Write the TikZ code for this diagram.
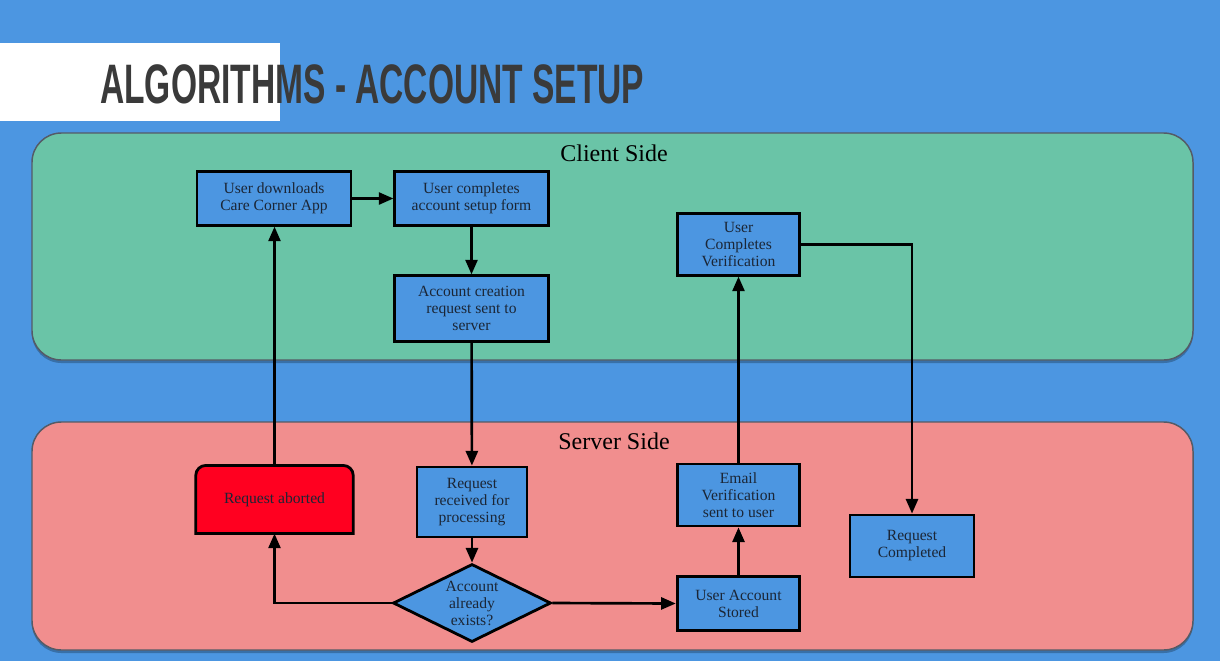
\documentclass[tikz,border=0pt]{standalone}
\usepackage{fontspec}
\setmainfont{Liberation Serif}
\newfontfamily\titlefont{Liberation Sans}
\usetikzlibrary{arrows.meta, positioning, calc, shapes.geometric}

\definecolor{slideblue}{HTML}{4C96E1}
\definecolor{clientgreen}{HTML}{6AC4A7}
\definecolor{serverred}{HTML}{F18E8E}
\definecolor{abortred}{HTML}{FF0020}
\definecolor{titlegray}{HTML}{3A3A3A}
\definecolor{panelline}{HTML}{555B66}
\definecolor{textdark}{HTML}{1B2636}

\pgfdeclarelayer{bg}
\pgfsetlayers{bg,main}

\begin{document}
\begin{tikzpicture}[x=0.75pt, y=-0.75pt,
    box/.style={draw=black, line width=2.1pt, fill=slideblue, text=textdark, align=center,
        font=\fontsize{11.7}{12.75}\selectfont, inner sep=0pt},
    decision/.style={box, shape=diamond, aspect=2.03, minimum width=118.5pt, minimum height=58.5pt},
    panel/.style={draw=panelline, line width=1.1pt, rounded corners=22pt},
    sidelabel/.style={font=\fontsize{18}{20}\selectfont, text=black},
    flow/.style={line width=2pt, -{Triangle[length=11pt, width=9pt]}}]

    % slide background, panels and title
    \begin{pgfonlayer}{bg}
        \fill[slideblue] (0,0) rectangle (1220,661);
        \fill[white] (0,43) rectangle (280,121);
        \fill[black, opacity=0.25, rounded corners=22pt] (32,136) rectangle (1193,363);
        \fill[black, opacity=0.25, rounded corners=22pt] (32,425) rectangle (1193,653);
        \draw[panel, fill=clientgreen] (32,133) rectangle (1193,360);
        \draw[panel, fill=serverred] (32,422) rectangle (1193,650);
    \end{pgfonlayer}
    \node[anchor=base west, inner sep=0pt, text=titlegray] (title) at (100,103)
        {\scalebox{0.585}[0.97]{\titlefont\bfseries\fontsize{43}{43}\selectfont ALGORITHMS - ACCOUNT SETUP}};
    \node[sidelabel] (client) at (614,153) {Client Side};
    \node[sidelabel] (server) at (614,441) {Server Side};

    % client side steps
    \node[box, minimum width=115.5pt, minimum height=40pt] (download) at (274,198.5) {User downloads\\Care Corner App};
    \node[box, minimum width=115pt, minimum height=40pt] (form) at (471.5,198.5) {User completes\\account setup form};
    \node[box, minimum width=115pt, minimum height=49pt] (send) at (471.5,308.5) {Account creation\\request sent to\\server};
    \node[box, minimum width=92pt, minimum height=46pt] (verify) at (738.5,244.5) {User\\Completes\\Verification};

    % server side steps
    \node[box, draw=none, fill=none, minimum width=116pt, minimum height=49pt] (aborted) at (274.5,499.5) {Request aborted};
    \begin{pgfonlayer}{bg}
        \draw[line width=2.1pt, fill=abortred, rounded corners=7.5pt]
            (aborted.south west) -- (aborted.north west) -- (aborted.north east)
            [sharp corners] -- (aborted.south east) -- cycle;
    \end{pgfonlayer}
    \node[box, minimum width=82.5pt, minimum height=52.5pt] (received) at (472,502) {Request\\received for\\processing};
    \node[decision] (exists) at (472,603) {Account\\already\\exists?};
    \node[box, minimum width=92pt, minimum height=40pt] (stored) at (738.5,603.5) {User Account\\Stored};
    \node[box, minimum width=92pt, minimum height=46.5pt] (email) at (738.5,495) {Email\\Verification\\sent to user};
    \node[box, minimum width=93pt, minimum height=46.5pt] (completed) at (912,546) {Request\\Completed};

    % connectors
    \draw[flow] (download) -- (form);
    \draw[flow] (form) -- (send);
    \draw[flow] (send) -- (received);
    \draw[flow] (received) -- (exists);
    \draw[flow] (exists.west) -| (aborted.south);
    \draw[flow] (aborted.north) -- (aborted.north |- download.south);
    \draw[flow] (exists.east) -- (stored.west);
    \draw[flow] (stored) -- (email);
    \draw[flow] (email) -- (verify);
    \draw[flow] (verify.east) -| (completed.north);
\end{tikzpicture}
\end{document}
